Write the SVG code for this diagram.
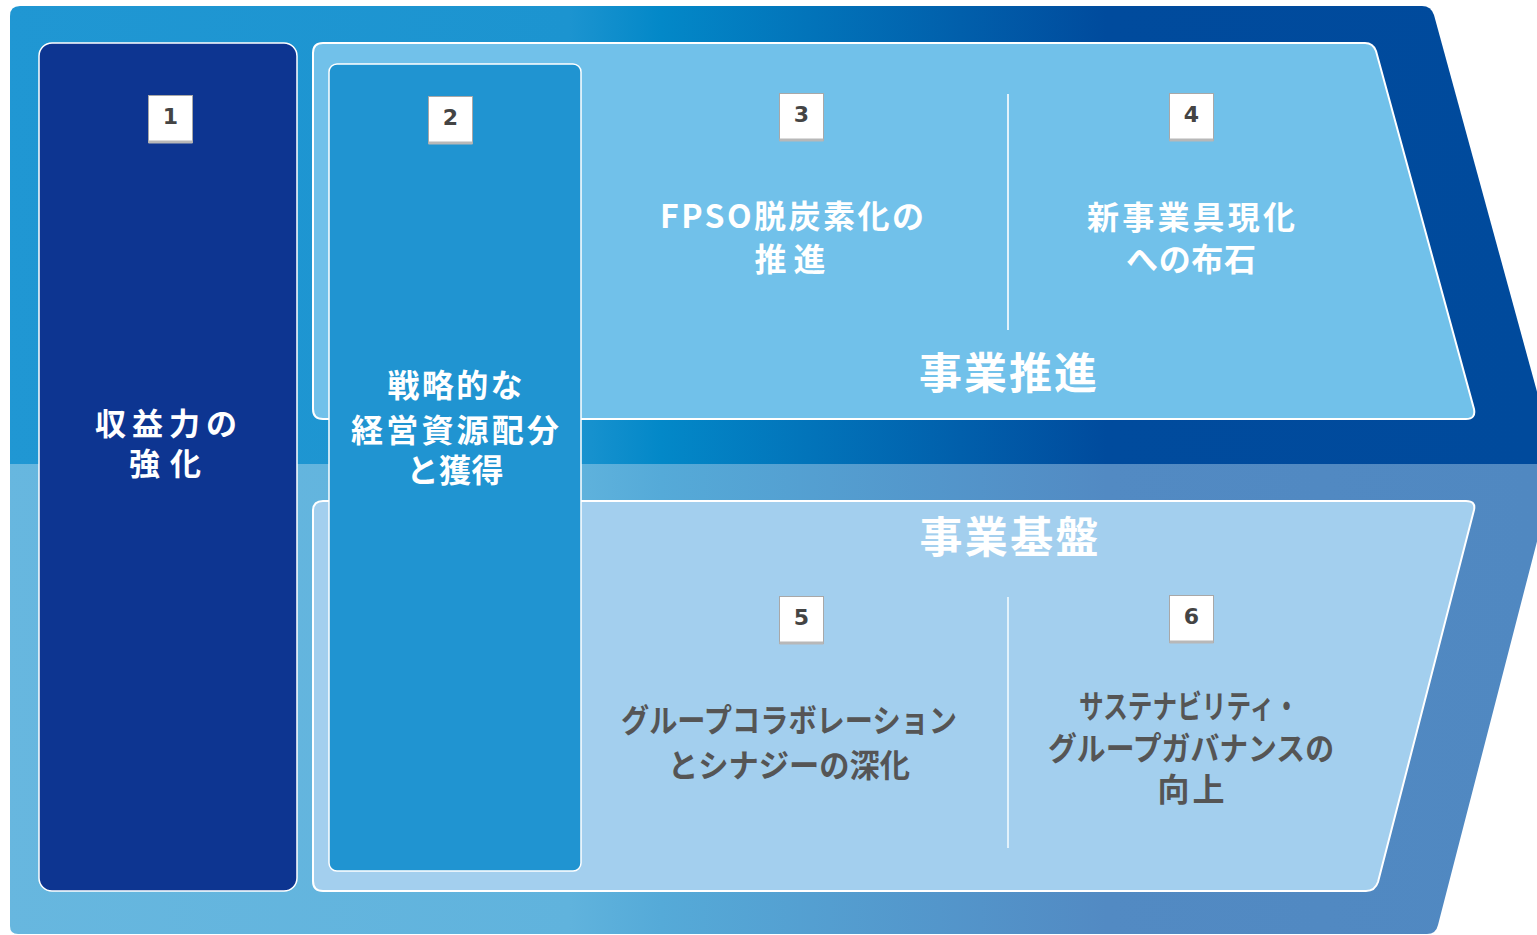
<svg xmlns="http://www.w3.org/2000/svg" width="1537" height="935" viewBox="0 0 1537 935">
  <defs>
    <linearGradient id="gTop" gradientUnits="userSpaceOnUse" x1="0" y1="0" x2="1537" y2="0">
      <stop offset="0" stop-color="#2097d3"/>
      <stop offset="0.37" stop-color="#1c94d0"/>
      <stop offset="0.43" stop-color="#0388c8"/>
      <stop offset="0.72" stop-color="#004b9d"/>
      <stop offset="1" stop-color="#004a9c"/>
    </linearGradient>
    <linearGradient id="gBot" gradientUnits="userSpaceOnUse" x1="0" y1="0" x2="1537" y2="0">
      <stop offset="0" stop-color="#67b7df"/>
      <stop offset="0.37" stop-color="#60b3dd"/>
      <stop offset="0.43" stop-color="#55aad8"/>
      <stop offset="0.72" stop-color="#528ac3"/>
      <stop offset="1" stop-color="#5088c1"/>
    </linearGradient>
    <style>
      .lbl { font-family: "Noto Sans CJK JP", "Liberation Sans", sans-serif; font-weight: bold; text-anchor: middle; }
      .w { fill: #ffffff; }
      .g { fill: #555555; }
      .s32 { font-size: 32px; }
      .s31 { font-size: 31px; }
      .s42 { font-size: 43px; }
      .num { font-family: "DejaVu Sans", "Liberation Sans", sans-serif; font-weight: bold; font-size: 22px; fill: #444444; text-anchor: middle; }
      .box { fill: #ffffff; stroke: #a8a8a8; stroke-width: 1; }
      .shadow { stroke: #b8b8b8; stroke-width: 3; }
      .panel { stroke: #ffffff; stroke-width: 2; }
      .div { stroke: #e2f2fb; stroke-width: 2; }
    </style>
  </defs>

  <g id="background">
    <path d="M 20,6 H 1422 Q 1431,6 1434,15 L 1557,465 L 10,465 V 16 Q 10,6 20,6 Z" fill="url(#gTop)"/>
    <path d="M 10,464 H 1557 L 1438,925 Q 1436,934 1427,934 H 18 Q 10,934 10,926 Z" fill="url(#gBot)"/>
  </g>

  <g id="panel-top">
    <path class="panel" fill="#71c1ea" d="M 323,43 H 1365 Q 1373,43 1376,51 L 1474,409 Q 1476,419 1466,419 H 323 Q 313,419 313,409 V 53 Q 313,43 323,43 Z"/>
  </g>
  <g id="panel-bottom">
    <path class="panel" fill="#a3cfee" d="M 323,501 H 1466 Q 1476,501 1474,510 L 1378,882 Q 1375,891 1366,891 H 323 Q 313,891 313,881 V 511 Q 313,501 323,501 Z"/>
  </g>

  <g id="connectors">
    <line class="div" x1="1008" y1="94" x2="1008" y2="330"/>
    <line class="div" x1="1008" y1="597" x2="1008" y2="848"/>
  </g>

  <g id="node1">
    <rect x="39" y="43" width="258" height="848" rx="13" fill="#0d3591" stroke="#ffffff" stroke-width="1.5"/>
    <rect class="box" x="148.5" y="95.5" width="44" height="47"/>
    <line class="shadow" x1="148.5" y1="142" x2="192.5" y2="142"/>
    <text class="num" x="170.5" y="124">1</text>
    <text class="lbl w s31" x="166" y="435" textLength="142">収益力の</text>
    <text class="lbl w s31" x="165" y="475" textLength="72">強化</text>
  </g>

  <g id="node2">
    <rect x="329" y="64" width="252" height="807" rx="8" fill="#2094d1" stroke="#ffffff" stroke-width="1.5"/>
    <rect class="box" x="428.5" y="96.5" width="44" height="47"/>
    <line class="shadow" x1="428.5" y1="143" x2="472.5" y2="143"/>
    <text class="num" x="450.5" y="125">2</text>
    <text class="lbl w s32" x="455" y="397" textLength="135">戦略的な</text>
    <text class="lbl w s32" x="455" y="442" textLength="208">経営資源配分</text>
    <text class="lbl w s32" x="455" y="482" textLength="97">と獲得</text>
  </g>

  <g id="node3">
    <rect class="box" x="779.5" y="93.5" width="44" height="47"/>
    <line class="shadow" x1="779.5" y1="140" x2="823.5" y2="140"/>
    <text class="num" x="801.5" y="122">3</text>
    <text class="lbl w s32" x="792" y="228" textLength="264">FPSO脱炭素化の</text>
    <text class="lbl w s32" x="790" y="271" textLength="71">推進</text>
  </g>

  <g id="node4">
    <rect class="box" x="1169.5" y="93.5" width="44" height="47"/>
    <line class="shadow" x1="1169.5" y1="140" x2="1213.5" y2="140"/>
    <text class="num" x="1191.5" y="122">4</text>
    <text class="lbl w s32" x="1191" y="229" textLength="208">新事業具現化</text>
    <text class="lbl w s32" x="1191" y="271" textLength="130">への布石</text>
  </g>

  <g id="label-suishin">
    <text class="lbl w s42" x="1008" y="389" textLength="178">事業推進</text>
  </g>
  <g id="label-kiban">
    <text class="lbl w s42" x="1009" y="553" textLength="179">事業基盤</text>
  </g>

  <g id="node5">
    <rect class="box" x="779.5" y="596.5" width="44" height="47"/>
    <line class="shadow" x1="779.5" y1="643" x2="823.5" y2="643"/>
    <text class="num" x="801.5" y="625">5</text>
    <text class="lbl g s32" x="789" y="732" textLength="336" lengthAdjust="spacingAndGlyphs">グループコラボレーション</text>
    <text class="lbl g s32" x="789" y="777" textLength="242" lengthAdjust="spacingAndGlyphs">とシナジーの深化</text>
  </g>

  <g id="node6">
    <rect class="box" x="1169.5" y="595.5" width="44" height="47"/>
    <line class="shadow" x1="1169.5" y1="642" x2="1213.5" y2="642"/>
    <text class="num" x="1191.5" y="624">6</text>
    <text class="lbl g s32" x="1189" y="718" textLength="220" lengthAdjust="spacingAndGlyphs">サステナビリティ・</text>
    <text class="lbl g s32" x="1191" y="760" textLength="286" lengthAdjust="spacingAndGlyphs">グループガバナンスの</text>
    <text class="lbl g s32" x="1191" y="801" textLength="67">向上</text>
  </g>
</svg>
